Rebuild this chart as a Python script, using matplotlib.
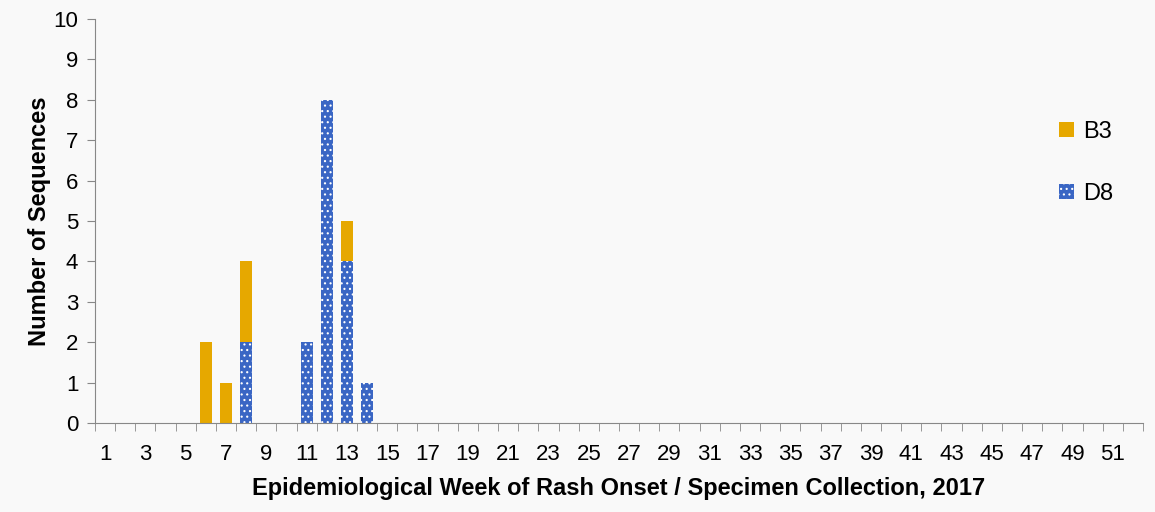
import numpy as np
import matplotlib
matplotlib.use('Agg')
import matplotlib.pyplot as plt
from matplotlib.patches import Patch

weeks = np.arange(1, 53)
b3 = np.zeros(52)
d8 = np.zeros(52)
# values
b3_vals = {6: 2, 7: 1, 8: 2, 13: 1}
d8_vals = {8: 2, 11: 2, 12: 8, 13: 4, 14: 1}
for w, v in b3_vals.items():
    b3[w - 1] = v
for w, v in d8_vals.items():
    d8[w - 1] = v

tick_labels = [str(w) if w % 2 == 1 else '' for w in weeks]

c_b3 = '#E6A800'
c_d8 = '#3A66C4'
bg = '#F9F9F9'

plt.rcParams['font.family'] = ['Liberation Sans', 'DejaVu Sans']
plt.rcParams['hatch.linewidth'] = 0.8

fig = plt.figure(figsize=(11.55, 5.12), dpi=100, facecolor=bg)
ax = fig.add_axes([95 / 1155, 89 / 512, 1048 / 1155, 404 / 512], facecolor=bg)

ax.bar(weeks, d8, width=0.6, color=c_d8, edgecolor='white', linewidth=0, hatch='...')
ax.bar(weeks, b3, width=0.6, bottom=d8, color=c_b3, linewidth=0)

ax.set_xlim(0.5, 52.5)
ax.set_ylim(0, 10)
ax.set_yticks(range(0, 11))
ax.set_xticks(weeks)
ax.set_xticklabels(tick_labels)
ax.set_xticks(np.arange(0.5, 53.5, 1), minor=True)
ax.tick_params(axis='x', which='major', length=0, labelsize=16, pad=15)
ax.tick_params(axis='x', which='minor', length=6, color='#888888', direction='out')
ax.tick_params(axis='y', labelsize=16, length=6, color='#888888', pad=6)

for s in ['top', 'right']:
    ax.spines[s].set_visible(False)
ax.spines['left'].set_color('#888888')
ax.spines['bottom'].set_color('#888888')

ax.set_xlabel('Epidemiological Week of Rash Onset / Specimen Collection, 2017',
              fontsize=17, fontweight='bold', labelpad=9)
ax.set_ylabel('Number of Sequences', fontsize=17, fontweight='bold', labelpad=2)

handles = [Patch(facecolor=c_b3, linewidth=0),
           Patch(facecolor=c_d8, edgecolor='white', linewidth=0, hatch='...')]
leg = ax.legend(handles, ['B3', 'D8'], loc='upper left', bbox_to_anchor=(0.9, 0.8),
                frameon=False, fontsize=17, labelspacing=1.7, handlelength=0.6,
                handleheight=0.6, handletextpad=0.4)

fig.savefig('out.png', dpi=100, facecolor=bg)
